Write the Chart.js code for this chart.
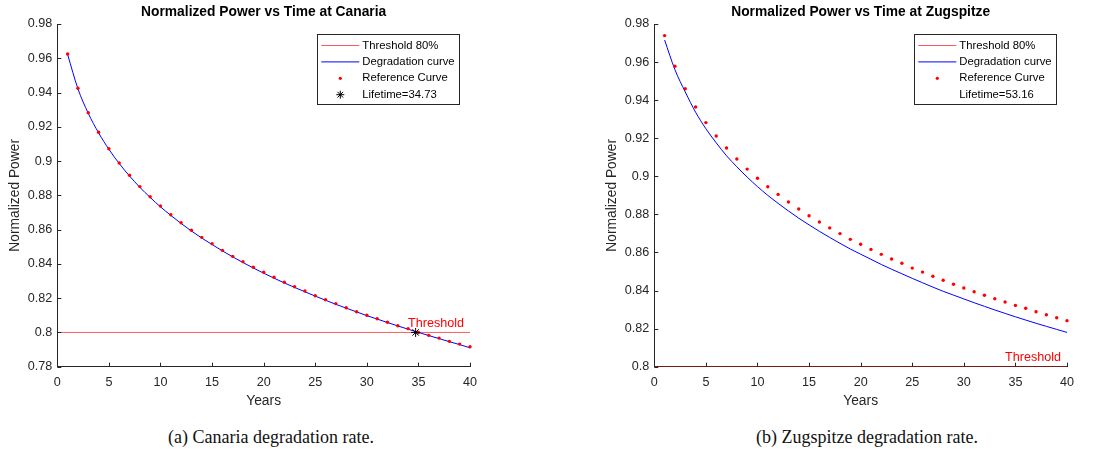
<!DOCTYPE html>
<html>
<head>
<meta charset="utf-8">
<script src="https://cdn.jsdelivr.net/npm/chart.js@4.4.0/dist/chart.umd.min.js"></script>
<style>
body{margin:0;background:#fff;width:1102px;height:453px;overflow:hidden;position:relative;font-family:"Liberation Sans",Arial,sans-serif}
.wrap{position:absolute;top:0;width:505px;height:420px}
.cap{position:absolute;top:427px;font-family:"Liberation Serif",serif;font-size:18px;color:#111;transform:translateX(-50%);white-space:nowrap}
</style>
</head>
<body>
<div class="wrap" style="left:0"><canvas id="canaria"></canvas></div>
<div class="wrap" style="left:597px"><canvas id="zugspitze"></canvas></div>
<div class="cap" style="left:271px">(a) Canaria degradation rate.</div>
<div class="cap" style="left:867px">(b) Zugspitze degradation rate.</div>
<script>
// datos
const years = [1,2,3,4,5,6,7,8,9,10,11,12,13,14,15,16,17,18,19,20,21,22,23,24,25,26,27,28,29,30,31,32,33,34,35,36,37,38,39,40];

const canariaRef = [0.9625,0.9425,0.9282,0.9168,0.9072,0.8989,0.8917,0.8851,0.8792,0.8738,0.8687,0.8640,0.8596,0.8555,0.8518,0.8479,0.8444,0.8413,0.8380,0.8351,0.8322,0.8293,0.8267,0.8242,0.8214,0.8191,0.8168,0.8144,0.8121,0.8100,0.8080,0.8059,0.8039,0.8022,0.8000,0.7983,0.7967,0.7948,0.7932,0.7916];
const canariaFit = [0.9622,0.9422,0.9279,0.9165,0.9069,0.8986,0.8913,0.8847,0.8788,0.8733,0.8683,0.8636,0.8592,0.8551,0.8513,0.8476,0.8441,0.8408,0.8376,0.8346,0.8317,0.8289,0.8263,0.8237,0.8212,0.8188,0.8164,0.8142,0.8120,0.8098,0.8078,0.8058,0.8038,0.8019,0.8000,0.7982,0.7964,0.7946,0.7929,0.7910];

const zugRef = [0.9739,0.9578,0.9460,0.9364,0.9282,0.9212,0.9149,0.9091,0.9038,0.8990,0.8945,0.8905,0.8865,0.8828,0.8793,0.8760,0.8729,0.8699,0.8669,0.8643,0.8616,0.8590,0.8566,0.8543,0.8518,0.8497,0.8475,0.8454,0.8433,0.8413,0.8394,0.8375,0.8357,0.8340,0.8322,0.8307,0.8289,0.8273,0.8257,0.8242];
const zugFit = [0.9716,0.9560,0.9443,0.9337,0.9250,0.9176,0.9108,0.9050,0.8996,0.8946,0.8900,0.8858,0.8818,0.8780,0.8745,0.8711,0.8679,0.8648,0.8618,0.8591,0.8564,0.8537,0.8512,0.8488,0.8464,0.8441,0.8418,0.8396,0.8376,0.8356,0.8336,0.8317,0.8298,0.8280,0.8262,0.8245,0.8228,0.8212,0.8196,0.8180];

const xTicks = [0,5,10,15,20,25,30,35,40];
const xTickLabels = ['0','5','10','15','20','25','30','35','40'];
const canariaYTicks = [0.78,0.80,0.82,0.84,0.86,0.88,0.90,0.92,0.94,0.96,0.98];
const canariaYLabels = ['0.78','0.8','0.82','0.84','0.86','0.88','0.9','0.92','0.94','0.96','0.98'];
const zugYTicks = [0.80,0.82,0.84,0.86,0.88,0.90,0.92,0.94,0.96,0.98];
const zugYLabels = ['0.8','0.82','0.84','0.86','0.88','0.9','0.92','0.94','0.96','0.98'];

const thresholdX = [0, 40];
const threshold = 0.8;
const thresholdTextAt = [34, 0.805];
const canariaLifetime = 34.73;
const zugLifetime = 53.16;

const AX = '#262626';
const FONT = '"Liberation Sans", Arial, sans-serif';

// titulos, etiquetas, ticks hacia adentro y leyenda
const decor = {
    id: 'decor',
    afterDraw(chart) {
        const o = chart.options.plugins.decor;
        const {ctx, chartArea: a, scales: {x, y}} = chart;
        ctx.save();
        // ticks
        ctx.strokeStyle = AX; ctx.lineWidth = 1;
        ctx.beginPath();
        x.ticks.forEach(t => {
            const px = Math.round(x.getPixelForValue(t.value)) + 0.5;
            ctx.moveTo(px, a.bottom); ctx.lineTo(px, a.bottom - 4);
        });
        y.ticks.forEach(t => {
            const py = Math.round(y.getPixelForValue(t.value)) + 0.5;
            ctx.moveTo(a.left, py); ctx.lineTo(a.left + 4, py);
        });
        ctx.stroke();

        // titulo
        const cx = (a.left + a.right) / 2;
        ctx.fillStyle = '#000';
        ctx.font = 'bold 13.8px ' + FONT;
        ctx.textAlign = 'center'; ctx.textBaseline = 'middle';
        ctx.fillText(o.title, cx, 12.5);

        // ejes
        ctx.fillStyle = AX;
        ctx.font = '13.8px ' + FONT;
        ctx.fillText('Years', cx, a.bottom + 34.5);
        ctx.save();
        ctx.translate(a.left - 42, (a.top + a.bottom) / 2);
        ctx.rotate(-Math.PI / 2);
        ctx.fillText('Normalized Power', 0, 0);
        ctx.restore();

        // texto threshold
        ctx.fillStyle = '#ff0000';
        ctx.font = '12.6px ' + FONT;
        ctx.textAlign = 'left';
        ctx.fillText('Threshold', x.getPixelForValue(thresholdTextAt[0]), y.getPixelForValue(thresholdTextAt[1]));

        // leyenda
        const bx = a.left + 260, by = a.top + 10, bw = 142, bh = 70;
        ctx.fillStyle = '#fff';
        ctx.fillRect(bx, by, bw, bh);
        ctx.strokeStyle = AX; ctx.lineWidth = 1;
        ctx.strokeRect(Math.round(bx) + 0.5, Math.round(by) + 0.5, bw, bh);
        ctx.font = '11.3px ' + FONT;
        o.legend.forEach((e, i) => {
            const ry = by + 11.5 + i * 16.4;
            if (e.type === 'line') {
                ctx.strokeStyle = e.color; ctx.lineWidth = 1;
                ctx.beginPath(); ctx.moveTo(bx + 4, ry); ctx.lineTo(bx + 42, ry); ctx.stroke();
            } else if (e.type === 'dot') {
                ctx.fillStyle = e.color;
                ctx.beginPath(); ctx.arc(bx + 23, ry, 1.6, 0, Math.PI * 2); ctx.fill();
            } else if (e.type === 'star') {
                ctx.strokeStyle = e.color; ctx.lineWidth = 1;
                ctx.beginPath();
                for (let k = 0; k < 4; k++) {
                    const ang = k * Math.PI / 4, r = 4;
                    ctx.moveTo(bx + 23 - r * Math.cos(ang), ry - r * Math.sin(ang));
                    ctx.lineTo(bx + 23 + r * Math.cos(ang), ry + r * Math.sin(ang));
                }
                ctx.stroke();
            }
            ctx.fillStyle = '#000';
            ctx.textAlign = 'left'; ctx.textBaseline = 'middle';
            ctx.fillText(e.label, bx + 45, ry);
        });
        ctx.restore();
    }
};

function makeChart(id, title, ref, fit, yTicks, yLabels, lifetime, showStar) {
    const pts = arr => years.map((yr, i) => ({x: yr, y: arr[i]}));
    return new Chart(document.getElementById(id), {
        type: 'line',
        data: {
            datasets: [{
                label: 'Lifetime=' + lifetime,
                data: [{x: lifetime, y: threshold}],
                showLine: false,
                pointStyle: 'star',
                pointRadius: 4.5,
                borderColor: '#000',
                backgroundColor: '#000',
                borderWidth: 1,
                order: 0
            }, {
                label: 'Reference Curve',
                data: pts(ref),
                showLine: false,
                pointStyle: 'circle',
                pointRadius: 1.7,
                borderWidth: 0,
                backgroundColor: '#ff0000',
                clip: 6,
                order: 1
            }, {
                label: 'Degradation curve',
                data: pts(fit),
                borderColor: '#0000ff',
                borderWidth: 1,
                pointRadius: 0,
                cubicInterpolationMode: 'monotone',
                order: 2
            }, {
                label: 'Threshold 80%',
                data: thresholdX.map(v => ({x: v, y: threshold})),
                borderColor: 'rgba(255,0,0,0.65)',
                borderWidth: 1,
                pointRadius: 0,
                order: 3
            }]
        },
        options: {
            responsive: true,
            maintainAspectRatio: false,
            animation: false,
            layout: {padding: {top: 24, right: 35, left: 0, bottom: 0}},
            scales: {
                x: {
                    type: 'linear', min: 0, max: 40,
                    afterFit: s => { s.height = 53.3; },
                    afterBuildTicks: s => { s.ticks = xTicks.map(v => ({value: v})); },
                    grid: {display: false, drawTicks: false},
                    border: {display: true, color: AX, width: 1},
                    ticks: {
                        padding: 8, color: AX, maxRotation: 0, autoSkip: false,
                        font: {family: FONT, size: 12.6},
                        callback: (v, i) => xTickLabels[i]
                    }
                },
                y: {
                    type: 'linear', min: yTicks[0], max: yTicks[yTicks.length - 1],
                    afterFit: s => { s.width = 57.3; },
                    afterBuildTicks: s => { s.ticks = yTicks.map(v => ({value: v})); },
                    grid: {display: false, drawTicks: false},
                    border: {display: true, color: AX, width: 1},
                    ticks: {
                        padding: 5, color: AX, autoSkip: false,
                        font: {family: FONT, size: 12.6},
                        callback: (v, i) => yLabels[i]
                    }
                }
            },
            plugins: {
                legend: {display: false},
                tooltip: {enabled: false},
                decor: {
                    title: title,
                    legend: [
                        {label: 'Threshold 80%', type: 'line', color: 'rgba(255,0,0,0.65)'},
                        {label: 'Degradation curve', type: 'line', color: '#0000ff'},
                        {label: 'Reference Curve', type: 'dot', color: '#ff0000'},
                        {label: 'Lifetime=' + lifetime, type: showStar ? 'star' : 'none', color: '#000'}
                    ]
                }
            }
        },
        plugins: [decor]
    });
}

makeChart('canaria', 'Normalized Power vs Time at Canaria', canariaRef, canariaFit, canariaYTicks, canariaYLabels, canariaLifetime, true);
makeChart('zugspitze', 'Normalized Power vs Time at Zugspitze', zugRef, zugFit, zugYTicks, zugYLabels, zugLifetime, false);
</script>
</body>
</html>
